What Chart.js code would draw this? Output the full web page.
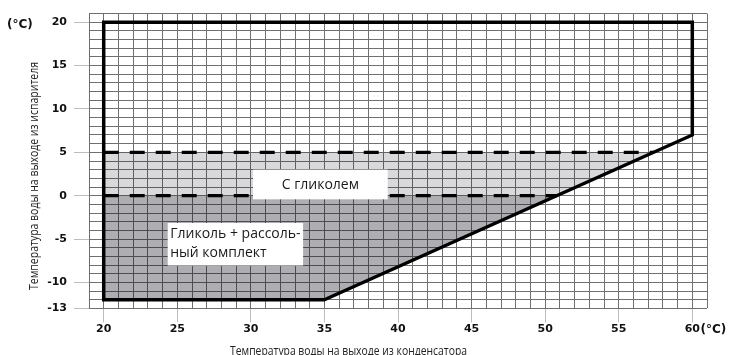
<!DOCTYPE html>
<html>
<head>
<meta charset="utf-8">
<script src="https://cdn.jsdelivr.net/npm/chart.js@4.4.0/dist/chart.umd.min.js"></script>
<style>
  html, body { margin: 0; padding: 0; background: #fff; }
  canvas { display: block; }
</style>
</head>
<body>
<canvas id="envelope" width="731" height="355"></canvas>
<script>
// Labelled ticks of both axes (°C)
const condTicks = [20, 25, 30, 35, 40, 45, 50, 55, 60];
const evapTicks = [20, 15, 10, 5, 0, -5, -10, -13];

// Operating envelope outline: condenser outlet (x) / evaporator outlet (y)
const envelopeCond = [35, 20, 20, 60, 60, 35];
const envelopeEvap = [-12, -12, 20, 20, 7, -12];

// "With glycol" zone: lower edge, filled up to glycolTop
const glycolCond = [20, 50.8, 57.4];
const glycolEvap = [0, 0, 5];
const glycolTop = 5;

// "Glycol + brine kit" zone: lower edge, filled up to brineTop
const brineCond = [20, 35, 50.8];
const brineEvap = [-12, -12, 0];
const brineTop = 0;

// Dashed limit lines at 5 °C and 0 °C
const limit5Cond = [20, 57.4];
const limit5Evap = [5, 5];
const limit0Cond = [20, 50.8];
const limit0Evap = [0, 0];

const zoneGlycol = ['С гликолем'];
const zoneBrine = ['Гликоль + рассоль-', 'ный комплект'];
const xTitle = 'Температура воды на выходе из конденсатора';
const yTitle = 'Температура воды на выходе из испарителя';
const unitText = '(°C)';

const pts = (xs, ys) => xs.map((v, i) => ({ x: v, y: ys[i] }));

const TICK_FONT = { family: 'DejaVu Sans', size: 11, weight: 'bold' };
const GRID = '#6f6f6f';
const TICK_MARK = '#bdbdbd';

const decor = {
  id: 'decor',
  afterDatasetsDraw(chart) {
    const { ctx, scales: { x, y } } = chart;
    const px = v => x.getPixelForValue(v);
    const py = v => y.getPixelForValue(v);
    ctx.save();

    // white label boxes
    const box = (c0, c1, e0, e1) => {
      const l = px(c0), r = px(c1), t = py(e0), b = py(e1);
      ctx.fillStyle = '#ffffff';
      ctx.fillRect(l, t, r - l, b - t);
      return { l, r, t, b };
    };
    ctx.font = '14px "Open Sans"';
    ctx.fillStyle = '#1a1a1a';

    const b1 = box(30.15, 39.3, 3.0, -0.42);
    ctx.fillStyle = '#1a1a1a';
    ctx.textAlign = 'center';
    ctx.textBaseline = 'alphabetic';
    ctx.fillText(zoneGlycol[0], (b1.l + b1.r) / 2, b1.t + 19.5);

    const b2 = box(24.35, 33.55, -3.15, -8.05);
    ctx.fillStyle = '#1a1a1a';
    ctx.textAlign = 'left';
    zoneBrine.forEach((line, i) => ctx.fillText(line, b2.l + 2.5, b2.t + 15 + i * 19));

    // axis titles, condensed to the axis layout
    ctx.font = '12.5px "Open Sans"';
    ctx.fillStyle = '#222';
    ctx.textAlign = 'center';
    let w = ctx.measureText(yTitle).width;
    ctx.save();
    ctx.translate(37.5, 176);
    ctx.rotate(-Math.PI / 2);
    ctx.scale(228 / w, 1);
    ctx.fillText(yTitle, 0, 0);
    ctx.restore();

    w = ctx.measureText(xTitle).width;
    ctx.save();
    ctx.translate(230, 354.5);
    ctx.scale(237 / w, 1);
    ctx.textAlign = 'left';
    ctx.fillText(xTitle, 0, 0);
    ctx.restore();

    // unit marks
    ctx.font = 'bold 12px "DejaVu Sans"';
    ctx.fillStyle = '#111';
    ctx.textAlign = 'left';
    ctx.textBaseline = 'alphabetic';
    ctx.fillText(unitText, 7, 27.5);

    ctx.font = 'bold 11px "DejaVu Sans"';
    const w60 = ctx.measureText(String(condTicks[condTicks.length - 1])).width;
    ctx.font = 'bold 12px "DejaVu Sans"';
    ctx.fillText(unitText, px(condTicks[condTicks.length - 1]) + w60 / 2 + 0.5, 333);

    ctx.restore();
  }
};

new Chart(document.getElementById('envelope'), {
  type: 'line',
  data: {
    datasets: [
      {
        data: pts(envelopeCond, envelopeEvap),
        borderColor: '#000', borderWidth: 3.5,
        borderJoinStyle: 'miter', borderCapStyle: 'round',
        pointRadius: 0, fill: false, tension: 0
      },
      {
        data: pts(limit5Cond, limit5Evap),
        borderColor: '#000', borderWidth: 3.3, borderDash: [15, 11],
        borderCapStyle: 'butt', pointRadius: 0, fill: false
      },
      {
        data: pts(limit0Cond, limit0Evap),
        borderColor: '#000', borderWidth: 3.3, borderDash: [15, 11],
        borderCapStyle: 'butt', pointRadius: 0, fill: false
      },
      {
        data: pts(glycolCond, glycolEvap),
        borderWidth: 0, borderColor: 'rgba(0,0,0,0)', pointRadius: 0,
        fill: { value: glycolTop }, backgroundColor: 'rgba(20,20,35,0.16)'
      },
      {
        data: pts(brineCond, brineEvap),
        borderWidth: 0, borderColor: 'rgba(0,0,0,0)', pointRadius: 0,
        fill: { value: brineTop }, backgroundColor: 'rgba(10,10,20,0.33)'
      }
    ]
  },
  options: {
    responsive: false,
    animation: false,
    devicePixelRatio: 1,
    layout: { padding: { top: 11, right: 24, bottom: 0, left: 0 } },
    plugins: { legend: { display: false }, tooltip: { enabled: false } },
    events: [],
    scales: {
      x: {
        type: 'linear', min: 19, max: 61,
        afterFit: s => { s.height = 46.6; },
        afterBuildTicks: s => { s.ticks = Array.from({ length: 43 }, (_, i) => ({ value: 19 + i })); },
        ticks: {
          autoSkip: false, maxRotation: 0, padding: 0,
          font: TICK_FONT, color: '#111',
          callback: v => (condTicks.includes(v) ? String(v) : '')
        },
        grid: {
          color: GRID, lineWidth: 1, tickLength: 14,
          tickColor: c => (condTicks.includes(c.tick && c.tick.value) ? TICK_MARK : 'rgba(0,0,0,0)')
        },
        border: { display: false }
      },
      y: {
        type: 'linear', min: -13, max: 21,
        afterFit: s => { s.width = 89; },
        afterBuildTicks: s => { s.ticks = Array.from({ length: 35 }, (_, i) => ({ value: -13 + i })); },
        ticks: {
          autoSkip: false, padding: 7,
          font: TICK_FONT, color: '#111',
          callback: v => (evapTicks.includes(v) ? String(v) : '')
        },
        grid: {
          color: GRID, lineWidth: 1, tickLength: 15,
          tickColor: c => (evapTicks.includes(c.tick && c.tick.value) ? TICK_MARK : 'rgba(0,0,0,0)')
        },
        border: { display: false }
      }
    }
  },
  plugins: [decor]
});
</script>
</body>
</html>
